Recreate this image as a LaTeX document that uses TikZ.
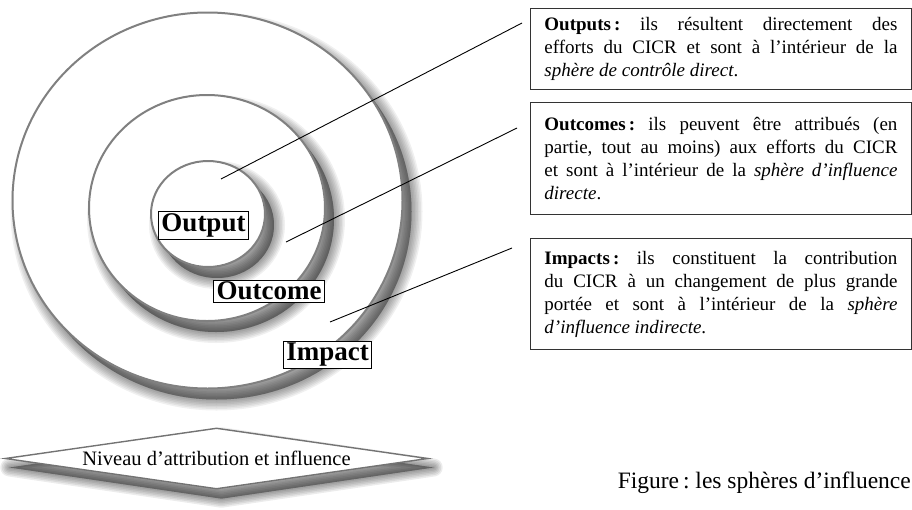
\documentclass[tikz,border=0pt]{standalone}
\usepackage{fontspec}
\setmainfont{Liberation Serif}
\usetikzlibrary{shapes.geometric,backgrounds}
\tolerance=9999
\frenchspacing

\begin{document}
\begin{tikzpicture}[x=1pt,y=1pt]
\tikzstyle{tag} = [rectangle, draw=black, line width=0.8pt, fill=white,
font=\fontsize{27}{30}\selectfont\bfseries, inner xsep=3pt, inner ysep=2pt]
\tikzstyle{infobox} = [rectangle, draw=black!80, line width=0.9pt, anchor=north west,
text width=353pt, align=justify, inner xsep=14pt, font=\fontsize{19}{23}\selectfont]
\tikzstyle{ring} = [draw=black!50, line width=2pt, fill=white]
\tikzstyle{line} = [draw, line width=0.9pt]
\tikzstyle{level} = [diamond, draw=black!55, line width=1.4pt, fill=white, aspect=7,
minimum width=423pt, minimum height=61pt, inner sep=0pt, font=\fontsize{20.5}{24}\selectfont]

\useasboundingbox (0,0) rectangle (912,-509);

% rings, outer to inner, each over its own soft shadow
\foreach \cx/\cy/\rx/\ry in {207.5/-200.5/195/188, 207/-208/118/113, 208/-214/57/53}{
  \foreach \w in {22,19,...,1}
    \filldraw[black, opacity=0.06, line width=\w pt] (\cx+9,\cy-11) ellipse ({\rx} and {\ry});
  \path[ring] (\cx,\cy) ellipse ({\rx} and {\ry});
}
\coordinate (outputpt) at (221,-179);
\coordinate (outcomept) at (286,-242);
\coordinate (impactpt) at (330,-322);

\node[tag] (outputtag) at (203.5,-225.5) {Output};
\node[tag] (outcometag) at (269,-291) {Outcome};
\node[tag] (impacttag) at (327.5,-355) {Impact};

% text boxes
\node[infobox, minimum height=81pt] (outputsbox) at (530,-8) {\textbf{Outputs\,:} ils résultent directement des\linebreak
efforts du CICR et sont à l’intérieur de la\linebreak
\textit{sphère de contrôle direct}.};
\node[infobox, minimum height=112pt] (outcomesbox) at (530,-102) {\textbf{Outcomes\,:} ils peuvent être attribués (en\linebreak
partie, tout au moins) aux efforts du CICR\linebreak
et sont à l’intérieur de la \textit{sphère d’influence}\linebreak
\textit{directe}.};
\node[infobox, minimum height=111pt] (impactsbox) at (530,-238) {\textbf{Impacts\,:} ils constituent la contribution\linebreak
du CICR à un changement de plus grande\linebreak
portée et sont à l’intérieur de la \textit{sphère}\linebreak
\textit{d’influence indirecte}.};

\path[line] (outputpt) -- ([shift={(-8,-15)}]outputsbox.north west);
\path[line] (outcomept) -- ([shift={(-13,-26)}]outcomesbox.north west);
\path[line] (impactpt) -- ([shift={(-18,-10)}]impactsbox.north west);

% level bar
\node[level] (levelbar) at (216.5,-458.5) {Niveau d’attribution et influence};
\begin{pgfonlayer}{background}
\foreach \w in {18,15,...,1}
  \filldraw[black, opacity=0.075, line width=\w pt, line join=round]
    ([shift={(5,-9)}]levelbar.west) -- ([shift={(5,-9)}]levelbar.north)
    -- ([shift={(5,-9)}]levelbar.east) -- ([shift={(5,-9)}]levelbar.south) -- cycle;
\end{pgfonlayer}

\node[font=\fontsize{23.5}{26}\selectfont, anchor=base east, inner sep=0pt] (caption) at (911,-488) {Figure\,: les sphères d’influence};
\end{tikzpicture}
\end{document}
